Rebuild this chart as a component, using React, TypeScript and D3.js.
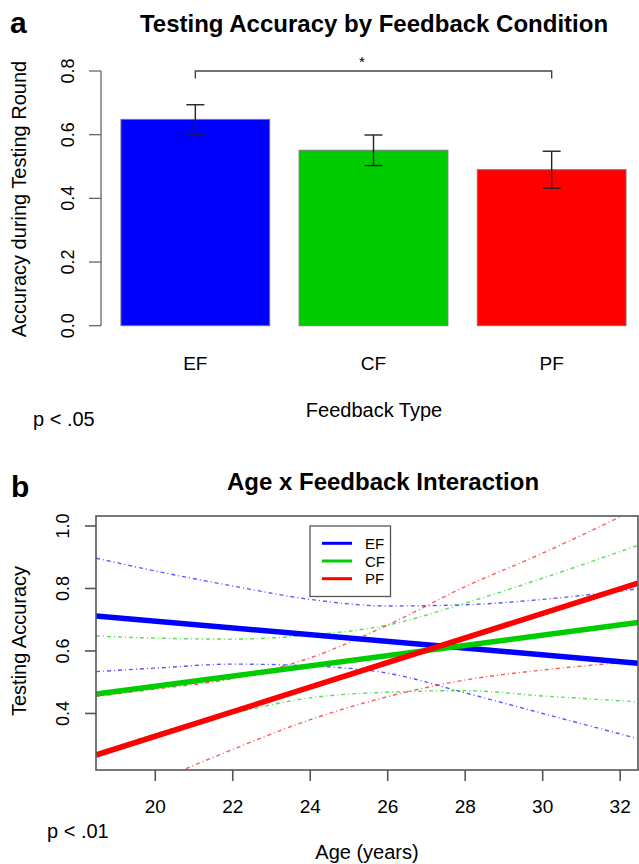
import React from "react";
import * as d3 from "d3";

// ---------- Panel a data ----------
const categories = ["EF", "CF", "PF"];
const accuracy = [0.648, 0.551, 0.49];
const stdErr = [0.046, 0.048, 0.058];
const barColors = ["#0000FF", "#00CD00", "#FF0000"];
const yTicksA = [0, 0.2, 0.4, 0.6, 0.8];

// ---------- Panel b data ----------
const fitAges = [18.47, 32.46];
const efFit = [0.712, 0.561];
const cfFit = [0.462, 0.691];
const pfFit = [0.267, 0.817];

const bandAges = [18.47, 20, 22, 24, 26, 28, 30, 32.5];
const efUpper = [0.897, 0.856, 0.808, 0.765, 0.744, 0.748, 0.765, 0.8];
const efLower = [0.534, 0.545, 0.558, 0.552, 0.529, 0.466, 0.4, 0.318];
const cfUpper = [0.648, 0.641, 0.638, 0.651, 0.683, 0.753, 0.833, 0.94];
const cfLower = [0.27, 0.335, 0.4, 0.45, 0.468, 0.473, 0.456, 0.437];
const pfUpper = [0.455, 0.478, 0.512, 0.578, 0.683, 0.806, 0.913, 1.06];
const pfLower = [0.09, 0.18, 0.285, 0.38, 0.454, 0.507, 0.539, 0.567];

const xTicksB = [20, 22, 24, 26, 28, 30, 32];
const yTicksB = [0.4, 0.6, 0.8, 1.0];
const legendLabels = ["EF", "CF", "PF"];
const lineColors = ["#0000FF", "#00CD00", "#FF0000"];

const FONT = "'Liberation Sans', Arial, Helvetica, sans-serif";

export default function App() {
  // Panel a scales
  const xA = d3
    .scaleBand<string>()
    .domain(categories)
    .range([106.25, 640.75])
    .paddingInner(0.165)
    .paddingOuter(0.0825);
  const yA = d3.scaleLinear().domain([0, 0.8]).range([325.7, 71]);
  const axisXA = 101;

  // Panel b scales
  const xB = d3.scaleLinear().domain([18.47, 32.46]).range([96, 638]);
  const yB = d3.scaleLinear().domain([0.219, 1.032]).range([770, 516]);

  const fitLine = d3
    .line<number>()
    .x((_, i) => xB(fitAges[i]))
    .y((d) => yB(d));
  const bandLine = d3
    .line<number>()
    .x((_, i) => xB(bandAges[i]))
    .y((d) => yB(d))
    .curve(d3.curveMonotoneX);

  const fits = [efFit, cfFit, pfFit];
  const bands = [
    [efUpper, efLower],
    [cfUpper, cfLower],
    [pfUpper, pfLower],
  ];

  const c0 = xA("EF")! + xA.bandwidth() / 2;
  const c2 = xA("PF")! + xA.bandwidth() / 2;
  const bracketY = yA(0.8);

  return (
    <svg
      width={639}
      height={864}
      style={{ position: "absolute", left: 0, top: 0, background: "#fff" }}
      fontFamily={FONT}
    >
      <rect x={0} y={0} width={639} height={864} fill="#fff" />
      {/* ---------------- Panel a ---------------- */}
      <text x={10} y={33} fontSize={30} fontWeight="bold">a</text>
      <text x={374} y={32} fontSize={24} fontWeight="bold" textAnchor="middle">
        Testing Accuracy by Feedback Condition
      </text>

      {/* y axis */}
      <line x1={axisXA} x2={axisXA} y1={yA(0)} y2={yA(0.8)} stroke="#666" strokeWidth={1.3} />
      {yTicksA.map((t) => (
        <g key={t}>
          <line x1={axisXA - 12} x2={axisXA} y1={yA(t)} y2={yA(t)} stroke="#666" strokeWidth={1.3} />
          <text
            transform={`translate(74,${yA(t)}) rotate(-90)`}
            fontSize={18}
            textAnchor="middle"
          >
            {t.toFixed(1)}
          </text>
        </g>
      ))}
      <text transform={`translate(26,199) rotate(-90)`} fontSize={20} textAnchor="middle">
        Accuracy during Testing Round
      </text>

      {/* bars */}
      {categories.map((c, i) => (
        <rect
          key={c}
          x={xA(c)}
          y={yA(accuracy[i])}
          width={xA.bandwidth()}
          height={yA(0) - yA(accuracy[i])}
          fill={barColors[i]}
          stroke="#777"
          strokeWidth={1}
        />
      ))}
      {/* error bars */}
      {categories.map((c, i) => {
        const cx = xA(c)! + xA.bandwidth() / 2;
        const top = yA(accuracy[i] + stdErr[i]);
        const bot = yA(accuracy[i] - stdErr[i]);
        return (
          <g key={c} stroke="#222" strokeWidth={1.4}>
            <line x1={cx} x2={cx} y1={top} y2={bot} />
            <line x1={cx - 9} x2={cx + 9} y1={top} y2={top} />
            <line x1={cx - 9} x2={cx + 9} y1={bot} y2={bot} />
          </g>
        );
      })}
      {/* category labels */}
      {categories.map((c) => (
        <text key={c} x={xA(c)! + xA.bandwidth() / 2} y={370} fontSize={19} textAnchor="middle">
          {c}
        </text>
      ))}
      {/* significance bracket */}
      <path
        d={`M${c0},${bracketY + 7.5}V${bracketY}H${c2}V${bracketY + 7.5}`}
        fill="none"
        stroke="#444"
        strokeWidth={1.4}
      />
      <text x={362} y={67} fontSize={15} textAnchor="middle">*</text>

      <text x={374} y={417} fontSize={20} textAnchor="middle">Feedback Type</text>
      <text x={33} y={426} fontSize={20}>p &lt; .05</text>

      {/* ---------------- Panel b ---------------- */}
      <text x={11} y={497} fontSize={30} fontWeight="bold">b</text>
      <text x={383} y={490} fontSize={24} fontWeight="bold" textAnchor="middle">
        Age x Feedback Interaction
      </text>

      <defs>
        <clipPath id="plotB">
          <rect x={96} y={516} width={542} height={254} />
        </clipPath>
      </defs>

      <g clipPath="url(#plotB)">
        {bands.map((pair, i) =>
          pair.map((vals, j) => (
            <path
              key={`${i}-${j}`}
              d={bandLine(vals) || ""}
              fill="none"
              stroke={lineColors[i]}
              strokeWidth={1.4}
              strokeOpacity={0.65}
              strokeDasharray="4,3,1,3"
            />
          ))
        )}
        {fits.map((vals, i) => (
          <path key={i} d={fitLine(vals) || ""} fill="none" stroke={lineColors[i]} strokeWidth={5.5} />
        ))}
      </g>

      {/* box */}
      <rect x={96} y={516} width={542} height={254} fill="none" stroke="#555" strokeWidth={1.6} />
      {/* y ticks */}
      {yTicksB.map((t) => (
        <g key={t}>
          <line x1={85} x2={96} y1={yB(t)} y2={yB(t)} stroke="#555" strokeWidth={1.6} />
          <text transform={`translate(69,${yB(t)}) rotate(-90)`} fontSize={18} textAnchor="middle">
            {t.toFixed(1)}
          </text>
        </g>
      ))}
      {/* x ticks */}
      {xTicksB.map((t) => (
        <g key={t}>
          <line x1={xB(t)} x2={xB(t)} y1={770} y2={781} stroke="#555" strokeWidth={1.6} />
          <text x={xB(t)} y={813} fontSize={19} textAnchor="middle">{t}</text>
        </g>
      ))}
      <text transform={`translate(26,641) rotate(-90)`} fontSize={20} textAnchor="middle">
        Testing Accuracy
      </text>
      <text x={367} y={859} fontSize={20} textAnchor="middle">Age (years)</text>
      <text x={47} y={838} fontSize={20}>p &lt; .01</text>

      {/* legend */}
      <rect x={310} y={526} width={80.5} height={70.5} fill="#fff" stroke="#555" strokeWidth={1.3} />
      {legendLabels.map((l, i) => {
        const yy = 543.3 + i * 17.7;
        return (
          <g key={l}>
            <line x1={322} x2={352} y1={yy} y2={yy} stroke={lineColors[i]} strokeWidth={3} />
            <text x={365} y={yy + 5.5} fontSize={15}>{l}</text>
          </g>
        );
      })}
    </svg>
  );
}
